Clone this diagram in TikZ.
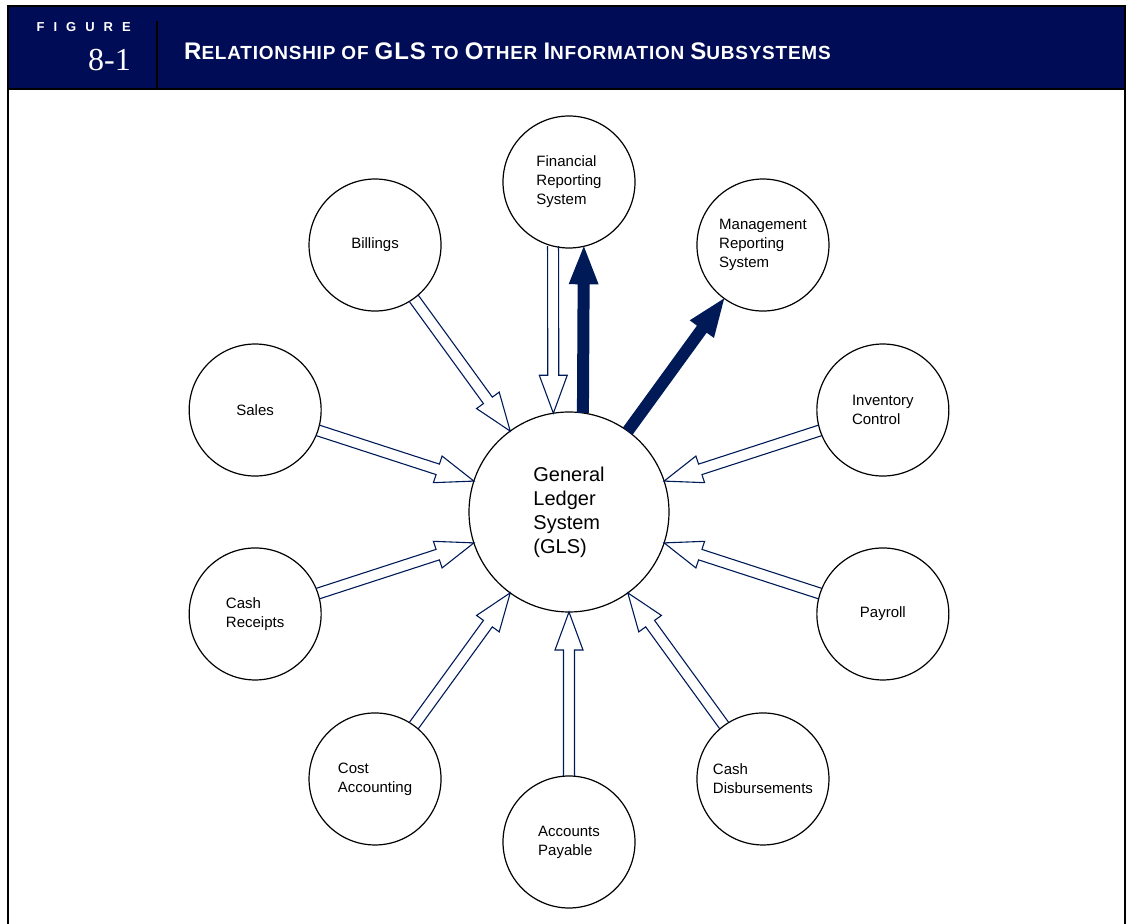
\documentclass[tikz,border=0pt]{standalone}
\usepackage{fontspec}
\setmainfont{Liberation Sans}
\newfontfamily\numfont{Liberation Serif}
\usetikzlibrary{calc}
\definecolor{bandblue}{RGB}{0,12,85}
\definecolor{arrowblue}{RGB}{0,26,88}
\newcommand{\titlebig}[1]{{\fontsize{24}{28}\selectfont #1}}
\newcommand{\titlesmall}[1]{{\fontsize{19}{22}\selectfont #1}}
% hollow arrow from #1 to #2
\newcommand{\feedarrow}[2]{%
  \coordinate (ft) at (#1);
  \coordinate (fh) at (#2);
  \coordinate (fb) at ($(fh)!38pt!(ft)$);
  \draw[feed] ($(ft)!5.5pt!90:(fh)$) -- ($(fb)!5.5pt!90:(fh)$) -- ($(fb)!14pt!90:(fh)$) -- (fh)
    -- ($(fb)!14pt!-90:(fh)$) -- ($(fb)!5.5pt!-90:(fh)$) -- ($(ft)!5.5pt!-90:(fh)$);
}
% filled arrow from #1 to #2
\newcommand{\outarrow}[2]{%
  \coordinate (ft) at (#1);
  \coordinate (fh) at (#2);
  \coordinate (fb) at ($(fh)!38pt!(ft)$);
  \fill[arrowblue] ($(ft)!6pt!90:(fh)$) -- ($(fb)!6pt!90:(fh)$) -- ($(fb)!15pt!90:(fh)$) -- (fh)
    -- ($(fb)!15pt!-90:(fh)$) -- ($(fb)!6pt!-90:(fh)$) -- ($(ft)!6pt!-90:(fh)$) -- cycle;
}
\begin{document}
\begin{tikzpicture}[
  x=1pt, y=1pt,
  sub/.style={circle, draw, line width=1.2pt, minimum size=132pt, inner sep=0pt, outer sep=0pt, align=left, font=\fontsize{15}{19}\selectfont},
  glsbox/.style={circle, draw, line width=1.2pt, minimum size=200pt, inner sep=0pt, outer sep=0pt, align=left, font=\fontsize{20}{24}\selectfont},
  feed/.style={draw=arrowblue, line width=1.1pt, line join=miter}
]
\useasboundingbox (0,0) rectangle (1128,924);
% header band and frame
\fill[bandblue] (9,836) rectangle (1124,917);
\draw[line width=2pt] (8,0) -- (8,918) -- (1125,918) -- (1125,0);
\draw[line width=2pt] (8,835) -- (1125,835);
\draw[line width=2.5pt] (157,835) -- (157,903);
\node[text=white, anchor=base east, inner sep=0pt, font=\bfseries\fontsize{13}{15}\selectfont] (figword) at (131,892)
  {F\hspace{9pt}I\hspace{9pt}G\hspace{9pt}U\hspace{9pt}R\hspace{9pt}E};
\node[text=white, anchor=base east, inner sep=0pt, font=\numfont\fontsize{32}{36}\selectfont] (fignum) at (131,853) {8-1};
\node[text=white, anchor=base west, inner sep=0pt, font=\bfseries\fontsize{19}{22}\selectfont\addfontfeature{LetterSpace=4}] (title) at (184,864)
  {\titlebig{R}\titlesmall{ELATIONSHIP OF} \titlebig{GLS} \titlesmall{TO} \titlebig{O}\titlesmall{THER} \titlebig{I}\titlesmall{NFORMATION} \titlebig{S}\titlesmall{UBSYSTEMS}};
% systems
\node[glsbox] (gls) at (569,412) {General\\Ledger\\System\\(GLS)};
\node[sub] (fr) at ($(gls)+(90:330pt)$) {Financial\\Reporting\\System};
\node[sub] (mr) at ($(gls)+(54:330pt)$) {Management\\Reporting\\System};
\node[sub] (inv) at ($(gls)+(18:330pt)$) {Inventory\\Control};
\node[sub] (pay) at ($(gls)+(-18:330pt)$) {Payroll};
\node[sub] (cdis) at ($(gls)+(-54:330pt)$) {Cash\\Disbursements};
\node[sub] (ap) at ($(gls)+(-90:330pt)$) {Accounts\\Payable};
\node[sub] (cost) at ($(gls)+(-126:330pt)$) {Cost\\Accounting};
\node[sub] (crec) at ($(gls)+(-162:330pt)$) {Cash\\Receipts};
\node[sub] (sales) at ($(gls)+(162:330pt)$) {Sales};
\node[sub] (bill) at ($(gls)+(126:330pt)$) {Billings};
% flows into the GLS
\foreach \n/\a/\b in {bill/-54/126, sales/-18/162, crec/18/-162, cost/54/-126, ap/90/-90, cdis/126/-54, pay/162/-18, inv/198/18}
  {\feedarrow{\n.\a}{gls.\b}}
\feedarrow{fr.-104}{gls.99.2}
% flows out of the GLS
\outarrow{gls.82}{fr.-77.8}
\outarrow{gls.54}{mr.-126}
\end{tikzpicture}
\end{document}
